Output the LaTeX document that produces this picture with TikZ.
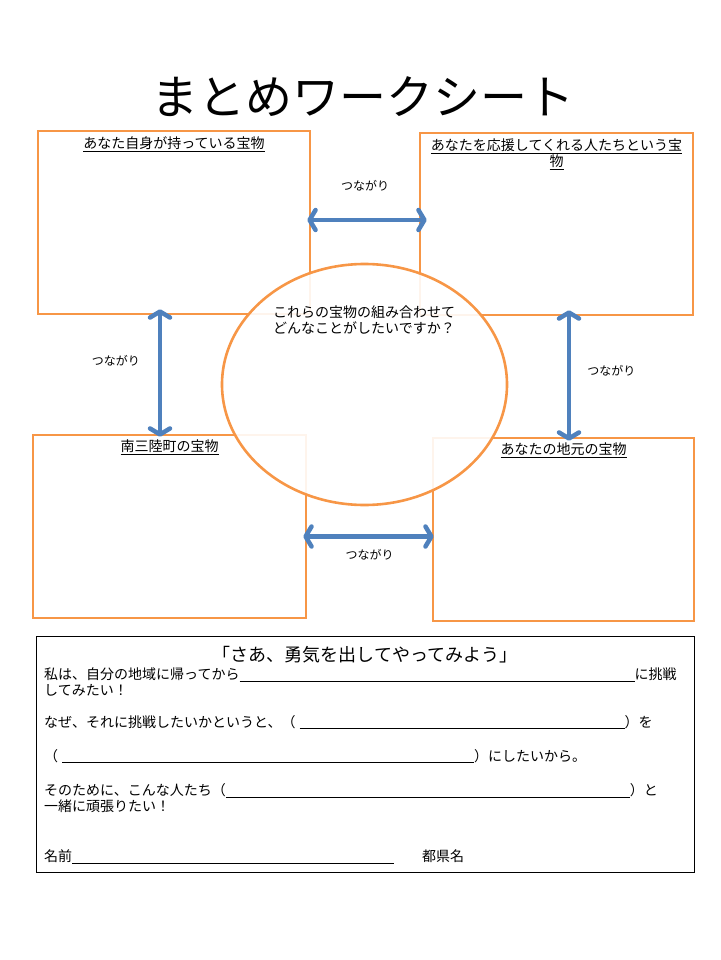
\documentclass[tikz,border=0pt]{standalone}
\usepackage{fontspec}
\setmainfont{Noto Sans CJK JP}
\usetikzlibrary{arrows.meta, positioning, shapes.geometric, calc}
\definecolor{SheetOrange}{HTML}{F79646}
\definecolor{LinkBlue}{HTML}{4F81BD}

\begin{document}
\begin{tikzpicture}[x=1pt, y=-1pt,
    every node/.style={align=center},
    treasure/.style={draw=SheetOrange, line width=2.6pt, rectangle, inner sep=0pt},
    heading/.style={font=\fontsize{14}{16}\selectfont, inner sep=0pt},
    link/.style={{Straight Barb[length=6pt, width=20pt, round]}-{Straight Barb[length=6pt, width=20pt, round]}, line width=4.5pt, color=LinkBlue},
    linklabel/.style={font=\fontsize{12}{14}\selectfont, inner sep=0pt, text=black},
    pledgeline/.style={font=\fontsize{14}{16}\selectfont, inner sep=0pt, anchor=west, align=left}]
    \useasboundingbox (0,0) rectangle (720,960);

    \node[font=\fontsize{47}{50}\selectfont, inner sep=0pt] (title) at (363,97) {まとめワークシート};

    % Treasure boxes
    \node[treasure, minimum width=272pt, minimum height=183pt] (mine) at (174,222.5) {};
    \node[treasure, minimum width=273pt, minimum height=182pt] (support) at (556.5,224) {};
    \node[treasure, minimum width=273pt, minimum height=183pt] (town) at (169.5,526.5) {};
    \node[treasure, minimum width=261pt, minimum height=183pt] (local) at (563.5,529.5) {};

    \node[heading, below=7pt of mine.north] (mineLabel) {\underline{あなた自身が持っている宝物}};
    \node[heading, below=7pt of support.north] (supportLabel) {\underline{あなたを応援してくれる人たちという宝}\\\underline{物}};
    \node[heading, below=6pt of town.north] (townLabel) {\underline{南三陸町の宝物}};
    \node[heading, below=6pt of local.north] (localLabel) {\underline{あなたの地元の宝物}};

    % Center ellipse
    \node[ellipse, draw=SheetOrange, line width=2.6pt, fill=white, fill opacity=0.9, minimum width=285pt, minimum height=241pt] (goal) at (364.5,384.5) {};
    \node[font=\fontsize{14}{16}\selectfont, inner sep=0pt, anchor=west, align=left] (goalText) at (273,320) {これらの宝物の組み合わせて\\どんなことがしたいですか？};

    % Arrows
    \draw[link, shorten <=-4pt, shorten >=-8pt] ([yshift=2.5pt]mine.east) -- node[linklabel, above=27pt] (topLink) {つながり} ([yshift=4pt]support.west);
    \draw[link, shorten <=-4pt, shorten >=-2pt] ([yshift=-10pt]town.east) -- node[linklabel, below=11pt] (bottomLink) {つながり} ([yshift=-7pt]local.west);
    \draw[link, shorten <=-6pt, shorten >=-3pt] ([xshift=-14pt]mine.south) -- node[linklabel, pos=0.38, left=18pt] (leftLink) {つながり} ([xshift=-9.5pt]town.north);
    \draw[link, shorten <=-6pt, shorten >=-4pt] ([xshift=12.5pt]support.south) -- node[linklabel, pos=0.45, right=16pt] (rightLink) {つながり} ([xshift=5.5pt]local.north);

    % Pledge area
    \node[draw, line width=0.8pt, minimum width=658pt, minimum height=236pt, inner sep=0pt] (pledge) at (365,754) {};
    \node[font=\fontsize{18}{20}\selectfont, inner sep=0pt] (pledgeTitle) at (365,655) {「さあ、勇気を出してやってみよう」};
    \node[pledgeline] (lineChallenge) at (44,682) {私は、自分の地域に帰ってから\rule[-2pt]{395pt}{0.8pt}に挑戦\\してみたい！};
    \node[pledgeline] (lineReason) at (44,722) {なぜ、それに挑戦したいかというと、（\hspace{4pt}\rule[-2pt]{325pt}{0.8pt}）を};
    \node[pledgeline] (lineWish) at (44,756) {（\hspace{4pt}\rule[-2pt]{412pt}{0.8pt}）にしたいから。};
    \node[pledgeline] (linePeople) at (44,798) {そのために、こんな人たち（\rule[-2pt]{404pt}{0.8pt}）と\\一緒に頑張りたい！};
    \node[pledgeline] (lineName) at (44,857) {名前\rule[-2pt]{322pt}{0.8pt}\hspace{28pt}都県名};
\end{tikzpicture}
\end{document}
